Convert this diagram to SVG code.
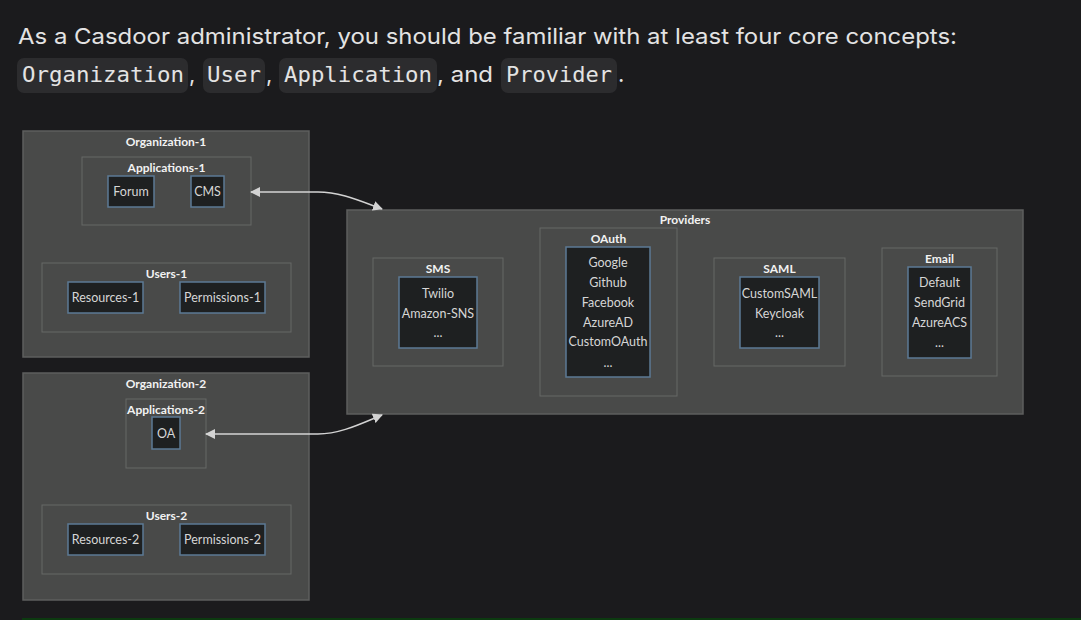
<svg xmlns="http://www.w3.org/2000/svg" width="1081" height="620" viewBox="0 0 1081 620">
<defs>
<style>
.bg{fill:#1b1b1d}
.head{font-family:Inter,"Noto Sans",sans-serif;font-size:22px;fill:#e3e3e3}
.code{font-family:"DejaVu Sans Mono","Liberation Mono",monospace;font-size:22px;fill:#e3e3e3}
.codebox{fill:#2c2c2e}
.outer{fill:#494a49;stroke:#5e5f5e;stroke-width:1.5}
.inner{fill:#494a49;stroke:#676867;stroke-width:1}
.leaf{fill:#1e2021;stroke:#5c7a95;stroke-width:1.5}
.clabel{font-family:Lato,"Liberation Sans",sans-serif;font-size:12px;font-weight:bold;fill:#f2f2f2;text-anchor:middle;dominant-baseline:central}
.ltext{font-family:Lato,"Liberation Sans",sans-serif;font-size:12.5px;fill:#d6d6d6;text-anchor:middle;dominant-baseline:central}
.edge{fill:none;stroke:#d3d3d3;stroke-width:1.5}
</style>
<marker id="ah" viewBox="0 0 10 10" refX="9" refY="5" markerWidth="10" markerHeight="10" markerUnits="userSpaceOnUse" orient="auto-start-reverse">
<path d="M0,0 L10,5 L0,10 z" fill="#d3d3d3"/>
</marker>
</defs>
<rect class="bg" x="0" y="0" width="1081" height="620"/>

<g id="intro">
<text class="head" x="18" y="44" textLength="939" lengthAdjust="spacingAndGlyphs">As a Casdoor administrator, you should be familiar with at least four core concepts:</text>
<rect class="codebox" x="17" y="58" width="171" height="35" rx="7"/>
<rect class="codebox" x="203" y="58" width="62" height="35" rx="7"/>
<rect class="codebox" x="279" y="58" width="158" height="35" rx="7"/>
<rect class="codebox" x="501" y="58" width="116" height="35" rx="7"/>
<text class="code" x="22" y="82" textLength="162" lengthAdjust="spacingAndGlyphs">Organization</text>
<text class="head" x="189" y="82">,</text>
<text class="code" x="207" y="82" textLength="54" lengthAdjust="spacingAndGlyphs">User</text>
<text class="head" x="266" y="82">,</text>
<text class="code" x="284" y="82" textLength="148" lengthAdjust="spacingAndGlyphs">Application</text>
<text class="head" x="437" y="82" textLength="56" lengthAdjust="spacingAndGlyphs">, and</text>
<text class="code" x="506" y="82" textLength="106" lengthAdjust="spacingAndGlyphs">Provider</text>
<text class="head" x="618" y="82">.</text>
</g>

<g id="org1">
<rect class="outer" x="23" y="131" width="286" height="226"/>
<text class="clabel" x="166" y="141">Organization-1</text>
<g id="apps1">
<rect class="inner" x="82" y="157" width="169" height="68"/>
<text class="clabel" x="166.5" y="167">Applications-1</text>
<g id="forum"><rect class="leaf" x="108" y="176" width="46" height="31"/><text class="ltext" x="131" y="191.5">Forum</text></g>
<g id="cms"><rect class="leaf" x="191" y="176" width="33" height="31"/><text class="ltext" x="207.5" y="191.5">CMS</text></g>
</g>
<g id="users1">
<rect class="inner" x="42" y="263" width="249" height="69"/>
<text class="clabel" x="166.5" y="273">Users-1</text>
<g id="res1"><rect class="leaf" x="68" y="282" width="75" height="31"/><text class="ltext" x="105.5" y="297.5">Resources-1</text></g>
<g id="perm1"><rect class="leaf" x="180" y="282" width="85" height="31"/><text class="ltext" x="222.5" y="297.5">Permissions-1</text></g>
</g>
</g>

<g id="org2">
<rect class="outer" x="23" y="373" width="286" height="227"/>
<text class="clabel" x="166" y="383">Organization-2</text>
<g id="apps2">
<rect class="inner" x="126" y="399" width="80" height="69"/>
<text class="clabel" x="166" y="409">Applications-2</text>
<g id="oa"><rect class="leaf" x="152" y="417" width="28" height="32"/><text class="ltext" x="166" y="433.5">OA</text></g>
</g>
<g id="users2">
<rect class="inner" x="42" y="505" width="249" height="69"/>
<text class="clabel" x="166.5" y="515">Users-2</text>
<g id="res2"><rect class="leaf" x="68" y="524" width="75" height="31"/><text class="ltext" x="105.5" y="539.5">Resources-2</text></g>
<g id="perm2"><rect class="leaf" x="180" y="524" width="85" height="31"/><text class="ltext" x="222.5" y="539.5">Permissions-2</text></g>
</g>
</g>

<g id="providers">
<rect class="outer" x="347" y="210" width="676" height="204"/>
<text class="clabel" x="685" y="219">Providers</text>
<g id="sms">
<rect class="inner" x="373" y="258" width="130" height="108"/>
<text class="clabel" x="438" y="268">SMS</text>
<rect class="leaf" x="399" y="277" width="78" height="71"/>
<text class="ltext" x="438" y="293">Twilio</text>
<text class="ltext" x="438" y="313">Amazon-SNS</text>
<text class="ltext" x="438" y="332">...</text>
</g>
<g id="oauth">
<rect class="inner" x="540" y="228" width="137" height="168"/>
<text class="clabel" x="608.5" y="238">OAuth</text>
<rect class="leaf" x="566" y="247" width="84" height="130"/>
<text class="ltext" x="608" y="262">Google</text>
<text class="ltext" x="608" y="282">Github</text>
<text class="ltext" x="608" y="302">Facebook</text>
<text class="ltext" x="608" y="322">AzureAD</text>
<text class="ltext" x="608" y="341">CustomOAuth</text>
<text class="ltext" x="608" y="362">...</text>
</g>
<g id="saml">
<rect class="inner" x="714" y="258" width="131" height="108"/>
<text class="clabel" x="779.5" y="268">SAML</text>
<rect class="leaf" x="740" y="277" width="79" height="71"/>
<text class="ltext" x="779.5" y="293">CustomSAML</text>
<text class="ltext" x="779.5" y="313">Keycloak</text>
<text class="ltext" x="779.5" y="332">...</text>
</g>
<g id="email">
<rect class="inner" x="882" y="248" width="115" height="128"/>
<text class="clabel" x="939.5" y="258">Email</text>
<rect class="leaf" x="908" y="267" width="63" height="91"/>
<text class="ltext" x="939.5" y="282">Default</text>
<text class="ltext" x="939.5" y="302">SendGrid</text>
<text class="ltext" x="939.5" y="322">AzureACS</text>
<text class="ltext" x="939.5" y="342">...</text>
</g>
</g>

<g id="connectors">
<path class="edge" d="M251,192 L318,192 C340,192 360,201 382,209" marker-start="url(#ah)" marker-end="url(#ah)"/>
<path class="edge" d="M206,434 L318,434 C340,434 360,424 382,415" marker-start="url(#ah)" marker-end="url(#ah)"/>
</g>

<rect x="22" y="618" width="1059" height="2" fill="#0c3a10"/>
</svg>
